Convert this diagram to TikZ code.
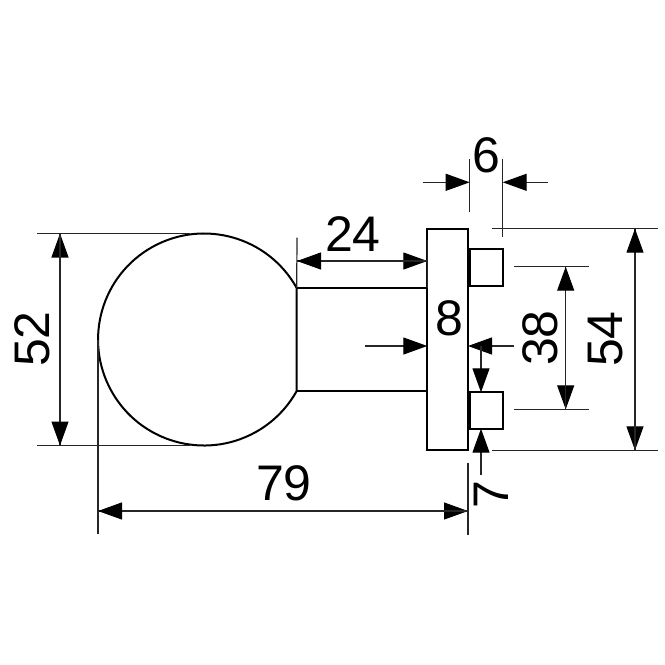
\documentclass[tikz,border=0pt]{standalone}
\usepackage{fontspec}
\setmainfont{Liberation Sans}
\usetikzlibrary{arrows.meta}
\tikzset{>={Triangle[length=24pt,width=17pt]}, x=1pt, y=-1pt}
\tikzstyle{part} = [draw, fill=white, rectangle, line width=2pt, inner sep=0pt, outer sep=0pt]
\tikzstyle{outline} = [draw, line width=2pt, line join=miter]
\tikzstyle{dim} = [draw, line width=1.2pt, color=black!85]
\tikzstyle{tip} = [draw, line width=1.2pt, color=black!85, -{Triangle[length=24pt,width=17pt,color=black]}]
\tikzstyle{label} = [font=\fontsize{50}{50}\selectfont, inner sep=0pt]

\begin{document}
\begin{tikzpicture}
    \useasboundingbox (0,0) rectangle (665,665);
    \node [part, minimum width=40.7pt, minimum height=221.6pt] (plate) at (447.6,339.5) {};
    \node [part, minimum width=33.2pt, minimum height=36.7pt] (stud_top) at (486.1,267.6) {};
    \node [part, minimum width=33.2pt, minimum height=36.4pt] (stud_bot) at (486.1,410.5) {};

    \coordinate (neck_top) at (296.7,288);
    \coordinate (neck_bot) at (296.7,391);
    \draw [outline] (neck_top) arc [start angle=-29.07, end angle=-330.93, radius=106] -- cycle;
    \draw [outline] (neck_top) -- (neck_top -| plate.west);
    \draw [outline] (neck_bot) -- (neck_bot -| plate.west);

    \coordinate (ball_top) at (190,233.5);
    \coordinate (ball_bot) at (190,445.5);
    \coordinate (ball_left) at (98,340);
    \coordinate (h52_top) at (37,233.5);
    \coordinate (h52_bot) at (37,445.5);
    \coordinate (a52_top) at (60,233.5);
    \coordinate (a52_bot) at (60,445.5);
    \draw [dim] (h52_top) -- (ball_top);
    \draw [dim] (h52_bot) -- (ball_bot);
    \draw [tip] (a52_bot) -- (a52_top);
    \draw [tip] (a52_top) -- (a52_bot);
    \node [label, rotate=90] (t52) at (32,339) {52};

    \coordinate (e79_left) at (98,534);
    \coordinate (e79_right_a) at (468,462.7);
    \coordinate (e79_right_b) at (468,535);
    \coordinate (a79_left) at (98,511);
    \coordinate (a79_right) at (468,511);
    \draw [dim] (ball_left) -- (e79_left);
    \draw [dim] (e79_right_a) -- (e79_right_b);
    \draw [tip] (a79_left) -- (a79_right);
    \draw [tip] (a79_right) -- (a79_left);
    \node [label] (t79) at (284,483) {79};

    \coordinate (e24_top) at (297,237.7);
    \coordinate (a24_left) at (297,261);
    \coordinate (a24_right) at (427.3,261);
    \coordinate (e24_bot) at (427.3,240);
    \draw [dim] (e24_top) -- (neck_top);
    \draw [dim] (e24_bot) -- (neck_top -| plate.west);
    \draw [tip] (a24_left) -- (a24_right);
    \draw [tip] (a24_right) -- (a24_left);
    \node [label] (t24) at (353,234) {24};

    \coordinate (e6_left_a) at (469.7,159);
    \coordinate (e6_left_b) at (469.7,212);
    \coordinate (e6_right_a) at (502.7,159);
    \coordinate (e6_right_b) at (502.7,236.7);
    \coordinate (a6_left_tail) at (422.7,182.3);
    \coordinate (a6_left) at (469.7,182.3);
    \coordinate (a6_right_tail) at (548,182.3);
    \coordinate (a6_right) at (502.7,182.3);
    \draw [dim] (e6_left_a) -- (e6_left_b);
    \draw [dim] (e6_right_a) -- (e6_right_b);
    \draw [tip] (a6_left_tail) -- (a6_left);
    \draw [tip] (a6_right_tail) -- (a6_right);
    \node [label] (t6) at (486,155) {6};

    \coordinate (h54_top_a) at (492,228.7);
    \coordinate (h54_top_b) at (658,228.7);
    \coordinate (h54_bot_a) at (492,450.3);
    \coordinate (h54_bot_b) at (658,450.3);
    \coordinate (a54_top) at (635,228.7);
    \coordinate (a54_bot) at (635,450.3);
    \draw [dim] (h54_top_a) -- (h54_top_b);
    \draw [dim] (h54_bot_a) -- (h54_bot_b);
    \draw [tip] (a54_top) -- (a54_bot);
    \draw [tip] (a54_bot) -- (a54_top);
    \node [label, rotate=90] (t54) at (606,339) {54};

    \coordinate (h38_top_a) at (514,266.7);
    \coordinate (h38_top_b) at (589,266.7);
    \coordinate (h38_bot_a) at (514,409.3);
    \coordinate (h38_bot_b) at (589,409.3);
    \coordinate (a38_top) at (565.7,266.7);
    \coordinate (a38_bot) at (565.7,409.3);
    \draw [dim] (h38_top_a) -- (h38_top_b);
    \draw [dim] (h38_bot_a) -- (h38_bot_b);
    \draw [tip] (a38_top) -- (a38_bot);
    \draw [tip] (a38_bot) -- (a38_top);
    \node [label, rotate=90] (t38) at (540,338) {38};

    \coordinate (a8_left_tail) at (365,346);
    \coordinate (a8_left) at (427.3,346);
    \coordinate (a8_right_tail) at (514,346);
    \coordinate (a8_right) at (468,346);
    \draw [tip] (a8_left_tail) -- (a8_left);
    \draw [tip] (a8_right_tail) -- (a8_right);
    \node [label] (t8) at (449,318) {8};

    \coordinate (a7_top_tail) at (481,346);
    \coordinate (a7_bot_tail) at (481,475);
    \draw [tip] (a7_top_tail) -- (a7_top_tail |- stud_bot.north);
    \draw [tip] (a7_bot_tail) -- (a7_bot_tail |- stud_bot.south);
    \node [label, rotate=90] (t7) at (491.7,495) {7};
\end{tikzpicture}
\end{document}
